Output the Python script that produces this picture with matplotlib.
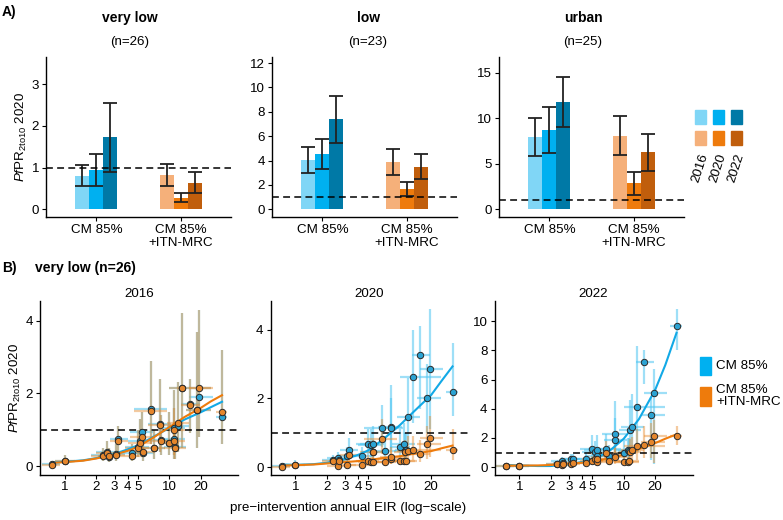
import matplotlib
matplotlib.use('Agg')
import matplotlib.pyplot as plt
import numpy as np
from matplotlib.patches import Rectangle

plt.rcParams['font.family'] = ['Liberation Sans', 'DejaVu Sans']
plt.rcParams['mathtext.fontset'] = 'custom'
plt.rcParams['mathtext.rm'] = 'Liberation Sans'
plt.rcParams['mathtext.it'] = 'Liberation Sans:italic'

# ---- panel A: mean PfPR ratio per scenario, with 95% interval ----
years = ['2016', '2020', '2022']
groups = ['CM 85%', 'CM 85%\n+ITN-MRC']
regions = ['very low', 'low', 'urban']
n_sites = [26, 23, 25]

vlow_cm = [0.80, 0.94, 1.73]
vlow_cm_lo = [0.56, 0.57, 0.90]
vlow_cm_hi = [1.06, 1.34, 2.55]
vlow_itn = [0.82, 0.27, 0.64]
vlow_itn_lo = [0.56, 0.19, 0.40]
vlow_itn_hi = [1.10, 0.40, 0.90]

low_cm = [4.01, 4.51, 7.39]
low_cm_lo = [2.97, 3.27, 5.44]
low_cm_hi = [5.14, 5.74, 9.29]
low_itn = [3.85, 1.70, 3.46]
low_itn_lo = [2.80, 1.13, 2.45]
low_itn_hi = [4.92, 2.28, 4.51]

urban_cm = [7.90, 8.67, 11.75]
urban_cm_lo = [5.85, 6.15, 9.04]
urban_cm_hi = [10.03, 11.23, 14.49]
urban_itn = [8.05, 2.85, 6.26]
urban_itn_lo = [5.96, 1.61, 4.24]
urban_itn_hi = [10.21, 4.10, 8.27]

# ---- panel B: very low sites, per site ----
eir = [0.75, 1.0, 2.3, 2.55, 2.65, 3.1, 3.25, 4.4, 5.0, 5.3, 5.5, 5.6, 6.7,
       7.2, 8.2, 8.3, 10.0, 11.0, 11.2, 11.4, 12.0, 13.3, 15.8, 18.3, 19.3, 32.0]
eir_lo = [0.6, 0.8, 1.8, 2.0, 2.1, 2.5, 2.7, 3.4, 3.8, 4.0, 4.2, 4.3, 4.6,
          5.5, 6.2, 6.5, 8.0, 8.5, 8.8, 9.0, 9.5, 10.0, 13.0, 14.5, 15.5, 28.0]
eir_hi = [0.9, 1.25, 2.8, 3.1, 3.2, 3.8, 4.0, 5.5, 6.4, 6.8, 7.0, 7.2, 9.5,
          9.2, 10.5, 10.8, 12.5, 14.0, 14.0, 14.5, 15.5, 25.0, 19.5, 25.0, 26.0, 36.0]

cm16 = [0.05, 0.14, 0.30, 0.40, 0.24, 0.32, 0.74, 0.35, 0.52, 0.68, 0.95, 0.35, 1.56,
        0.50, 1.16, 0.71, 0.64, 1.06, 0.75, 0.52, 1.09, 2.15, 1.72, 1.55, 1.90, 1.35]
itn16 = [0.03, 0.13, 0.29, 0.37, 0.27, 0.31, 0.70, 0.29, 0.50, 0.64, 0.80, 0.38, 1.51,
         0.51, 1.12, 0.70, 0.64, 1.00, 0.68, 0.50, 1.18, 2.15, 1.68, 1.55, 2.14, 1.50]
y16_lo = [0.0, 0.05, 0.15, 0.2, 0.1, 0.15, 0.4, 0.15, 0.25, 0.3, 0.4, 0.15, 0.6,
          0.2, 0.4, 0.3, 0.3, 0.3, 0.2, 0.2, 0.4, 0.5, 0.9, 0.5, 0.8, 0.6]
y16_hi = [0.1, 0.3, 0.5, 0.7, 0.5, 0.6, 1.1, 0.6, 1.0, 1.3, 1.5, 0.7, 2.9,
          1.0, 2.4, 1.4, 1.5, 2.1, 1.6, 1.2, 2.3, 4.2, 2.4, 3.7, 4.3, 3.2]

cm20 = [0.05, 0.08, 0.20, 0.26, 0.22, 0.34, 0.49, 0.34, 0.68, 0.66, 0.68, 0.45, 1.15,
        0.46, 1.16, 1.13, 0.59, 0.68, 0.47, 0.50, 1.46, 2.63, 3.27, 2.00, 2.85, 2.20]
cm20_lo = [0.0, 0.03, 0.1, 0.12, 0.1, 0.15, 0.25, 0.15, 0.35, 0.3, 0.35, 0.2, 0.6,
           0.2, 0.5, 0.5, 0.3, 0.3, 0.2, 0.2, 0.7, 1.3, 1.7, 1.0, 1.1, 1.5]
cm20_hi = [0.1, 0.2, 0.35, 0.45, 0.4, 0.6, 0.85, 0.6, 1.1, 1.1, 1.2, 0.8, 1.8,
           0.9, 2.4, 2.0, 1.1, 1.3, 1.0, 1.0, 2.6, 4.0, 4.1, 3.0, 4.6, 3.6]
itn20 = [0.0, 0.06, 0.18, 0.05, 0.18, 0.07, 0.36, 0.07, 0.18, 0.15, 0.44, 0.15, 0.83,
         0.15, 0.24, 0.30, 0.18, 0.17, 0.44, 0.17, 0.48, 0.49, 0.39, 0.67, 0.85, 0.49]
itn20_lo = [0.0, 0.02, 0.08, 0.02, 0.08, 0.02, 0.15, 0.02, 0.07, 0.05, 0.2, 0.05, 0.4,
            0.05, 0.1, 0.1, 0.07, 0.07, 0.2, 0.07, 0.2, 0.2, 0.15, 0.25, 0.3, 0.2]
itn20_hi = [0.05, 0.15, 0.3, 0.12, 0.32, 0.15, 0.6, 0.15, 0.35, 0.3, 0.8, 0.3, 1.4,
            0.3, 0.5, 0.6, 0.35, 0.35, 0.8, 0.35, 0.9, 0.9, 0.8, 1.2, 1.5, 1.1]

cm22 = [0.05, 0.07, 0.23, 0.41, 0.30, 0.53, 0.57, 0.57, 1.22, 1.03, 1.20, 0.75, 1.26,
        0.80, 2.30, 1.84, 0.99, 1.15, 1.10, 2.57, 2.76, 4.10, 7.20, 3.56, 5.10, 9.66]
cm22_lo = [0.0, 0.02, 0.1, 0.15, 0.1, 0.2, 0.25, 0.25, 0.5, 0.4, 0.5, 0.3, 0.5,
           0.3, 0.9, 0.7, 0.4, 0.4, 0.4, 0.9, 1.0, 1.1, 5.7, 0.46, 0.2, 8.0]
cm22_hi = [0.1, 0.15, 0.4, 0.7, 0.6, 0.9, 0.9, 1.0, 2.2, 1.8, 2.2, 1.3, 2.3,
           1.5, 4.5, 3.4, 1.8, 2.0, 2.0, 4.6, 5.0, 8.3, 8.0, 4.8, 6.7, 10.85]
itn22 = [0.05, 0.07, 0.23, 0.16, 0.20, 0.20, 0.30, 0.28, 0.41, 0.53, 0.34, 0.55, 0.97,
         0.40, 0.80, 0.69, 0.39, 0.34, 0.40, 1.03, 1.15, 1.43, 1.54, 1.72, 2.14, 2.11]
itn22_lo = [0.0, 0.02, 0.1, 0.05, 0.05, 0.05, 0.1, 0.1, 0.15, 0.2, 0.1, 0.2, 0.4,
            0.15, 0.3, 0.25, 0.15, 0.1, 0.15, 0.4, 0.4, 0.5, 0.6, 0.6, 0.3, 1.5]
itn22_hi = [0.1, 0.15, 0.4, 0.35, 0.4, 0.4, 0.6, 0.6, 0.8, 1.0, 0.7, 1.0, 1.8,
            0.8, 1.5, 1.3, 0.8, 0.7, 0.8, 1.9, 2.1, 2.6, 2.8, 3.0, 3.2, 2.8]

# smoothed trend lines
fit_x = [0.75, 1.0, 1.5, 2.0, 3.0, 4.0, 5.0, 7.0, 10.0, 14.0, 20.0, 25.0, 32.0]
fit16_cm = [0.10, 0.12, 0.16, 0.22, 0.34, 0.46, 0.57, 0.80, 1.05, 1.28, 1.48, 1.62, 1.77]
fit16_itn = [0.09, 0.11, 0.15, 0.21, 0.32, 0.42, 0.53, 0.78, 1.07, 1.35, 1.60, 1.78, 1.95]
fit20_cm = [0.08, 0.07, 0.09, 0.13, 0.24, 0.36, 0.49, 0.82, 1.22, 1.65, 2.10, 2.50, 2.93]
fit20_itn = [0.05, 0.06, 0.08, 0.11, 0.15, 0.18, 0.21, 0.27, 0.32, 0.40, 0.47, 0.55, 0.63]
fit22_cm = [0.16, 0.12, 0.08, 0.08, 0.20, 0.36, 0.55, 1.00, 1.95, 3.30, 5.30, 7.00, 9.20]
fit22_itn = [0.11, 0.11, 0.12, 0.15, 0.24, 0.31, 0.38, 0.58, 0.87, 1.25, 1.65, 1.95, 2.25]

blues = ['#80D6F6', '#00B0F0', '#0079A6']
oranges = ['#F5B07A', '#EE7B0C', '#C05E0C']
ylab = r'$\mathit{Pf}\mathrm{PR}_{\mathrm{2to10}}$ 2020'
fs = 9.6

W, H = 783, 520


def box(l, t, r, b):
    return [l / W, 1 - b / H, (r - l) / W, (b - t) / H]


def style(ax):
    for s in ['top', 'right']:
        ax.spines[s].set_visible(False)
    for s in ['left', 'bottom']:
        ax.spines[s].set_linewidth(1.0)
    ax.tick_params(length=3, width=0.8, labelsize=fs, pad=2, colors='black')


fig = plt.figure(figsize=(7.83, 5.2), dpi=100)

a_boxes = [(46, 57, 231, 217), (272, 57, 457, 217), (499, 57, 684, 217)]
a_ylims = [(-0.18, 3.65), (-0.63, 12.5), (-0.84, 16.7)]
a_yticks = [[0, 1, 2, 3], [0, 2, 4, 6, 8, 10, 12], [0, 5, 10, 15]]
a_data = [(vlow_cm, vlow_cm_lo, vlow_cm_hi, vlow_itn, vlow_itn_lo, vlow_itn_hi),
          (low_cm, low_cm_lo, low_cm_hi, low_itn, low_itn_lo, low_itn_hi),
          (urban_cm, urban_cm_lo, urban_cm_hi, urban_itn, urban_itn_lo, urban_itn_hi)]
title_x = [130, 368, 583]

bw = 1 / 6
for i in range(3):
    ax = fig.add_axes(box(*a_boxes[i]))
    cm, cm_lo, cm_hi, itn, itn_lo, itn_hi = a_data[i]
    for g, (vals, lo, hi, cols) in enumerate([(cm, cm_lo, cm_hi, blues),
                                               (itn, itn_lo, itn_hi, oranges)]):
        for k in range(3):
            xpos = g + 1 + (k - 1) * bw
            ax.bar(xpos, vals[k], width=bw, color=cols[k], zorder=2)
            ax.errorbar(xpos, vals[k],
                        yerr=[[vals[k] - lo[k]], [hi[k] - vals[k]]],
                        fmt='none', ecolor='#222222', elinewidth=1.3,
                        capsize=5, capthick=1.3, zorder=3)
    ax.axhline(1, color='black', lw=1.1, ls=(0, (4.5, 2.8)), zorder=4)
    ax.set_xlim(0.4, 2.6)
    ax.set_ylim(*a_ylims[i])
    ax.set_yticks(a_yticks[i])
    ax.set_xticks([1, 2])
    ax.set_xticklabels(groups, linespacing=1.1)
    ax.tick_params(axis='x', pad=4)
    style(ax)
    if i == 0:
        ax.set_ylabel(ylab, fontsize=fs, labelpad=2)
    fig.text(title_x[i] / W, 1 - 18 / H, regions[i], ha='center', va='center',
             fontsize=10, fontweight='bold')
    fig.text(title_x[i] / W, 1 - 42 / H, '(n=%d)' % n_sites[i], ha='center',
             va='center', fontsize=fs)

b_boxes = [(40, 301, 238, 474.5), (270.5, 301, 468.5, 474.5), (494.5, 301, 692.5, 474.5)]
b_ylims = [(-0.23, 4.54), (-0.21, 4.83), (-0.5, 11.38)]
b_yticks = [[0, 2, 4], [0, 2, 4], [0, 2, 4, 6, 8, 10]]
b_data = [(cm16, y16_lo, y16_hi, itn16, y16_lo, y16_hi, fit16_cm, fit16_itn),
          (cm20, cm20_lo, cm20_hi, itn20, itn20_lo, itn20_hi, fit20_cm, fit20_itn),
          (cm22, cm22_lo, cm22_hi, itn22, itn22_lo, itn22_hi, fit22_cm, fit22_itn)]

ex = np.array(eir)
xerr = [ex - np.array(eir_lo), np.array(eir_hi) - ex]
for i in range(3):
    ax = fig.add_axes(box(*b_boxes[i]))
    cm, cm_lo, cm_hi, itn, itn_lo, itn_hi, f_cm, f_itn = b_data[i]
    cm = np.array(cm)
    itn = np.array(itn)
    ax.errorbar(ex, cm, xerr=xerr,
                yerr=[cm - np.array(cm_lo), np.array(cm_hi) - cm],
                fmt='none', ecolor='#4FC6F2', elinewidth=1.6, alpha=0.55, zorder=2)
    ax.errorbar(ex, itn, xerr=xerr,
                yerr=[itn - np.array(itn_lo), np.array(itn_hi) - itn],
                fmt='none', ecolor='#E88A2E', elinewidth=1.6, alpha=0.45, zorder=2)
    ax.axhline(1, color='black', lw=1.1, ls=(0, (4.5, 2.8)), zorder=3)
    ax.plot(fit_x, f_cm, color='#12A9E6', lw=1.5, zorder=4)
    ax.plot(fit_x, f_itn, color='#EE7B0C', lw=1.5, zorder=4)
    ax.plot(ex, cm, 'o', ms=4.6, mfc='#2BA3D3', mec='#2a2a2a', mew=0.7, zorder=5)
    ax.plot(ex, itn, 'o', ms=4.6, mfc='#E5862C', mec='#2a2a2a', mew=0.7, zorder=6)
    ax.set_xscale('log')
    ax.set_xlim(0.58, 45.5)
    ax.set_xticks([1, 2, 3, 4, 5, 10, 20])
    ax.set_xticklabels(['1', '2', '3', '4', '5', '10', '20'])
    ax.minorticks_off()
    ax.set_ylim(*b_ylims[i])
    ax.set_yticks(b_yticks[i])
    style(ax)
    ax.set_title(years[i], fontsize=fs, pad=3)
    if i == 0:
        ax.set_ylabel(ylab, fontsize=fs, labelpad=2)

# overlay in pixel coordinates for panel letters and legends
ov = fig.add_axes([0, 0, 1, 1])
ov.set_xlim(0, W)
ov.set_ylim(H, 0)
ov.axis('off')
ov.text(2, 12, 'A)', fontsize=10, fontweight='bold', va='center')
ov.text(2, 268, 'B)', fontsize=10, fontweight='bold', va='center')
ov.text(35, 268, 'very low (n=26)', fontsize=10, fontweight='bold', va='center')
ov.text(348, 508, 'pre\u2212intervention annual EIR (log\u2212scale)', fontsize=fs,
        ha='center', va='center')

sq_x = [695, 713, 731]
for k in range(3):
    ov.add_patch(Rectangle((sq_x[k], 110), 11, 14, color=blues[k]))
    ov.add_patch(Rectangle((sq_x[k], 131), 11, 14, color=oranges[k]))
    ov.text(sq_x[k] + 5, 168, years[k], rotation=72, ha='center', va='center',
            fontsize=fs)

ov.add_patch(Rectangle((700, 357), 10.5, 18, color='#00B0F0'))
ov.add_patch(Rectangle((700, 387), 10.5, 19, color='#EE7B0C'))
ov.text(716, 366, 'CM 85%', fontsize=fs, va='center')
ov.text(716, 396, 'CM 85%\n+ITN-MRC', fontsize=fs, va='center', linespacing=1.1)

fig.savefig('out.png', dpi=100)
